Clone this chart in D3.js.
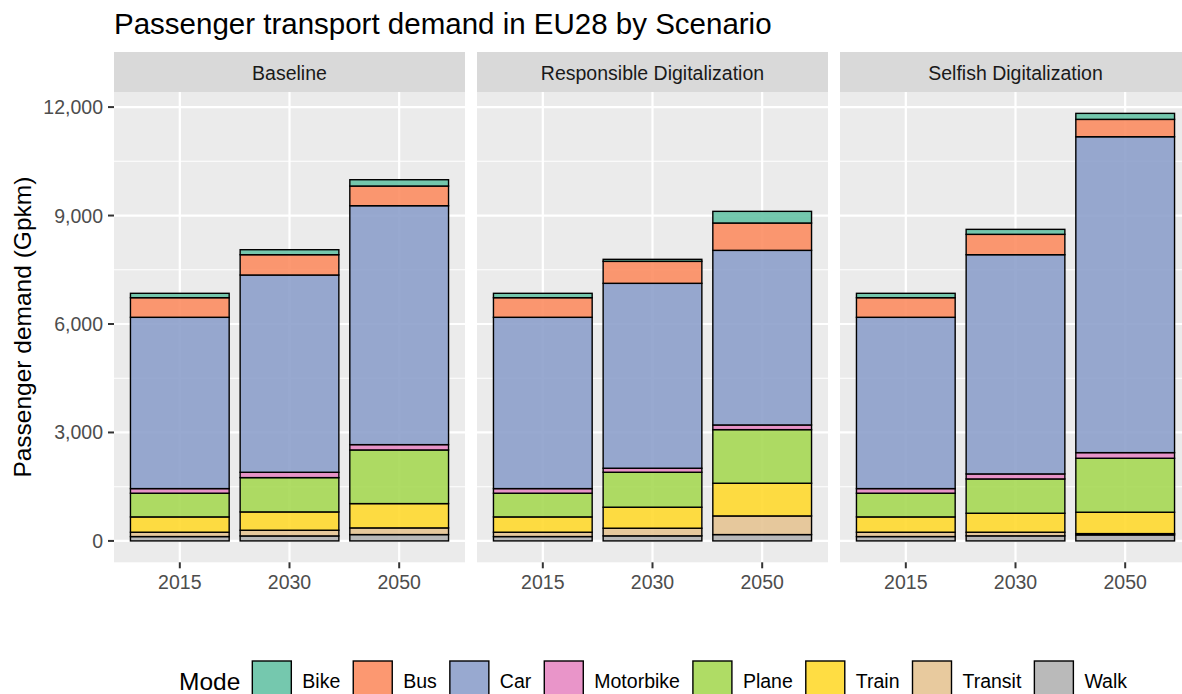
<!DOCTYPE html>
<html>
<head>
<meta charset="utf-8">
<script src="https://cdn.jsdelivr.net/npm/d3@7"></script>
<style>
body { margin: 0; background: #fff; }
text { font-family: "Liberation Sans", Arial, sans-serif; }
</style>
</head>
<body>
<div id="chart"></div>
<script>
// data, values in Gpkm, mode order Bike..Walk
var scenarios = ["Baseline", "Responsible Digitalization", "Selfish Digitalization"];
var years = ["2015", "2030", "2050"];
var modes = ["Bike", "Bus", "Car", "Motorbike", "Plane", "Train", "Transit", "Walk"];
var colors = ["#66C2A5", "#FC8D62", "#8DA0CB", "#E78AC3", "#A6D854", "#FFD92F", "#E5C494", "#B3B3B3"];
var yTicks = [0, 3000, 6000, 9000, 12000];

var values2015 = [121, 543, 4738, 128, 655, 424, 120, 120];   // same start year for every scenario
var baseline2030 = [138, 562, 5457, 147, 949, 507, 157, 138];
var baseline2050 = [175, 544, 6609, 147, 1484, 672, 185, 175];
var responsible2030 = [56, 608, 5115, 111, 967, 581, 211, 140];
var responsible2050 = [323, 756, 4830, 129, 1483, 904, 516, 175];
var selfish2030 = [138, 563, 6064, 139, 949, 525, 100, 140];
var selfish2050 = [166, 480, 8738, 156, 1493, 591, 36, 166];

var scenarioValues = [
  [values2015, baseline2030, baseline2050],
  [values2015, responsible2030, responsible2050],
  [values2015, selfish2030, selfish2050]
];

var width = 1182, height = 694;
var panelW = 351, panelGap = 12, panelLeft = 114;
var panelTop = 92, panelBottom = 562.3, stripTop = 52;

var svg = d3.select("#chart").append("svg")
  .attr("width", width)
  .attr("height", height);

// one row per scenario/year for the stack
var rows = [];
scenarios.forEach(function(s, i) {
  years.forEach(function(y, j) {
    var r = { scenario: s, year: y };
    modes.forEach(function(m, k) { r[m] = scenarioValues[i][j][k]; });
    rows.push(r);
  });
});

var stackKeys = modes.slice().reverse(); // Walk at the bottom, Bike on top
var stack = d3.stack().keys(stackKeys);
var color = d3.scaleOrdinal().domain(modes).range(colors);

var maxTotal = d3.max(rows, function(r) { return d3.sum(modes, function(m) { return r[m]; }); });
var pad = maxTotal * 0.05;
var y = d3.scaleLinear().domain([-pad, maxTotal + pad]).range([panelBottom, panelTop]);
var x = d3.scaleBand().domain(years).range([0, panelW]).paddingInner(0.1).paddingOuter(0.15);

// title
svg.append("text")
  .attr("x", 114).attr("y", 34)
  .attr("font-size", 29.5)
  .attr("fill", "#000")
  .text("Passenger transport demand in EU28 by Scenario");

var minorTicks = d3.range(1500, 13500, 3000);

scenarios.forEach(function(s, i) {
  var px = panelLeft + i * (panelW + panelGap);
  var g = svg.append("g").attr("transform", "translate(" + px + ",0)");

  // strip
  g.append("rect").attr("x", 0).attr("y", stripTop).attr("width", panelW).attr("height", panelTop - stripTop)
    .attr("fill", "#D9D9D9");
  g.append("text").attr("x", panelW / 2).attr("y", 79.5)
    .attr("text-anchor", "middle").attr("font-size", 19.5).attr("fill", "#1A1A1A").text(s);

  // panel background and grid
  g.append("rect").attr("x", 0).attr("y", panelTop).attr("width", panelW).attr("height", panelBottom - panelTop)
    .attr("fill", "#EBEBEB");
  g.selectAll(".minor").data(minorTicks.filter(function(t) { return y(t) > panelTop; })).enter()
    .append("line")
    .attr("x1", 0).attr("x2", panelW)
    .attr("y1", function(d) { return y(d); }).attr("y2", function(d) { return y(d); })
    .attr("stroke", "#fff").attr("stroke-width", 1.1);
  g.selectAll(".major").data(yTicks).enter()
    .append("line")
    .attr("x1", 0).attr("x2", panelW)
    .attr("y1", function(d) { return y(d); }).attr("y2", function(d) { return y(d); })
    .attr("stroke", "#fff").attr("stroke-width", 2.2);
  g.selectAll(".vgrid").data(years).enter()
    .append("line")
    .attr("x1", function(d) { return x(d) + x.bandwidth() / 2; })
    .attr("x2", function(d) { return x(d) + x.bandwidth() / 2; })
    .attr("y1", panelTop).attr("y2", panelBottom)
    .attr("stroke", "#fff").attr("stroke-width", 2.2);

  // stacked bars
  var data = rows.filter(function(r) { return r.scenario === s; });
  var series = stack(data);
  g.selectAll(".layer").data(series).enter()
    .append("g")
    .attr("fill", function(d) { return color(d.key); })
    .selectAll("rect").data(function(d) { return d; }).enter()
    .append("rect")
    .attr("x", function(d) { return x(d.data.year); })
    .attr("width", x.bandwidth())
    .attr("y", function(d) { return y(d[1]); })
    .attr("height", function(d) { return y(d[0]) - y(d[1]); })
    .attr("fill-opacity", 0.9)
    .attr("stroke", "#000")
    .attr("stroke-width", 1.4);

  // x axis ticks and labels
  years.forEach(function(yr) {
    var cx = x(yr) + x.bandwidth() / 2;
    g.append("line").attr("x1", cx).attr("x2", cx).attr("y1", panelBottom).attr("y2", panelBottom + 6)
      .attr("stroke", "#333").attr("stroke-width", 2);
    g.append("text").attr("x", cx).attr("y", 589)
      .attr("text-anchor", "middle").attr("font-size", 19.5).attr("fill", "#4D4D4D").text(yr);
  });
});

// y axis
var fmt = d3.format(",");
yTicks.forEach(function(t) {
  svg.append("line").attr("x1", 108).attr("x2", 114).attr("y1", y(t)).attr("y2", y(t))
    .attr("stroke", "#333").attr("stroke-width", 2);
  svg.append("text").attr("x", 103).attr("y", y(t) + 7)
    .attr("text-anchor", "end").attr("font-size", 19.5).attr("fill", "#4D4D4D").text(fmt(t));
});
svg.append("text")
  .attr("transform", "translate(31," + ((panelTop + panelBottom) / 2) + ") rotate(-90)")
  .attr("text-anchor", "middle").attr("font-size", 24.5).attr("fill", "#000")
  .text("Passenger demand (Gpkm)");

// legend at the bottom, centred on the panel area
var legend = svg.append("g");
var keySize = 39, keyTop = 661, textY = 688, itemGap = 13;
var lx = 0;
var title = legend.append("text").attr("x", 0).attr("y", textY + 2)
  .attr("font-size", 24.5).attr("fill", "#000").text("Mode");
lx = title.node().getComputedTextLength() + 12;
modes.forEach(function(m) {
  legend.append("rect").attr("x", lx).attr("y", keyTop).attr("width", keySize).attr("height", keySize)
    .attr("fill", color(m)).attr("fill-opacity", 0.9).attr("stroke", "#000").attr("stroke-width", 1.4);
  var t = legend.append("text").attr("x", lx + keySize + 11).attr("y", textY)
    .attr("font-size", 19.5).attr("fill", "#000").text(m);
  lx += keySize + 11 + t.node().getComputedTextLength() + itemGap;
});
lx -= itemGap;
var centre = 653;
legend.attr("transform", "translate(" + (centre - lx / 2) + ",0)");
</script>
</body>
</html>
